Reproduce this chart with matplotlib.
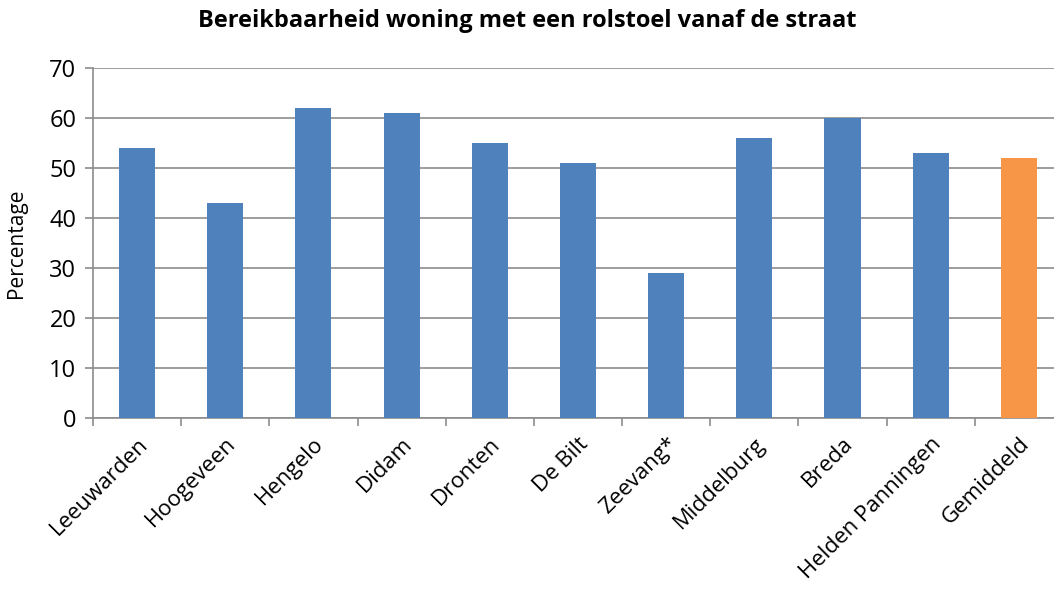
import matplotlib.pyplot as plt
import numpy as np

cities = ["Leeuwarden", "Hoogeveen", "Hengelo", "Didam", "Dronten", "De Bilt",
          "Zeevang*", "Middelburg", "Breda", "Helden Panningen", "Gemiddeld"]
values = [54, 43, 62, 61, 55, 51, 29, 56, 60, 53, 52]
colors = ["#4f81bd"] * 10 + ["#f79646"]

plt.rcParams["font.family"] = ["Open Sans", "DejaVu Sans"]

fig = plt.figure(figsize=(10.54, 5.9), dpi=100)
# plot area runs slightly past the right edge (cropped like the original)
ax = fig.add_axes([0.0882, 0.2915, 0.9203, 0.5932])

x = np.arange(len(cities))
ax.bar(x, values, width=0.41, color=colors, zorder=3)

ax.set_xlim(-0.5, len(cities) - 0.5)
ax.set_ylim(0, 70)
ax.set_yticks(range(0, 71, 10))
ax.grid(axis="y", color="#8c8c8c", linewidth=1.2, zorder=0)

ax.set_xticks(x)
ax.set_xticklabels(cities, rotation=45, ha="right", rotation_mode="anchor", fontsize=16)
ax.set_xticks(np.arange(-0.5, len(cities), 1), minor=True)
ax.tick_params(axis="x", which="major", length=0, pad=11)
ax.tick_params(axis="x", which="minor", length=6, width=1.2, color="#8c8c8c", direction="out")
ax.tick_params(axis="y", length=6, width=1.2, color="#8c8c8c", labelsize=17, pad=6)

for s in ["top", "right"]:
    ax.spines[s].set_visible(False)
for s in ["left", "bottom"]:
    ax.spines[s].set_color("#8c8c8c")
    ax.spines[s].set_linewidth(1.2)

ax.set_ylabel("Percentage", fontsize=15, labelpad=16)
fig.text(0.5, 0.965, "Bereikbaarheid woning met een rolstoel vanaf de straat",
         fontsize=17, fontweight="bold", ha="center", va="center")

fig.savefig("out.png", dpi=100)
